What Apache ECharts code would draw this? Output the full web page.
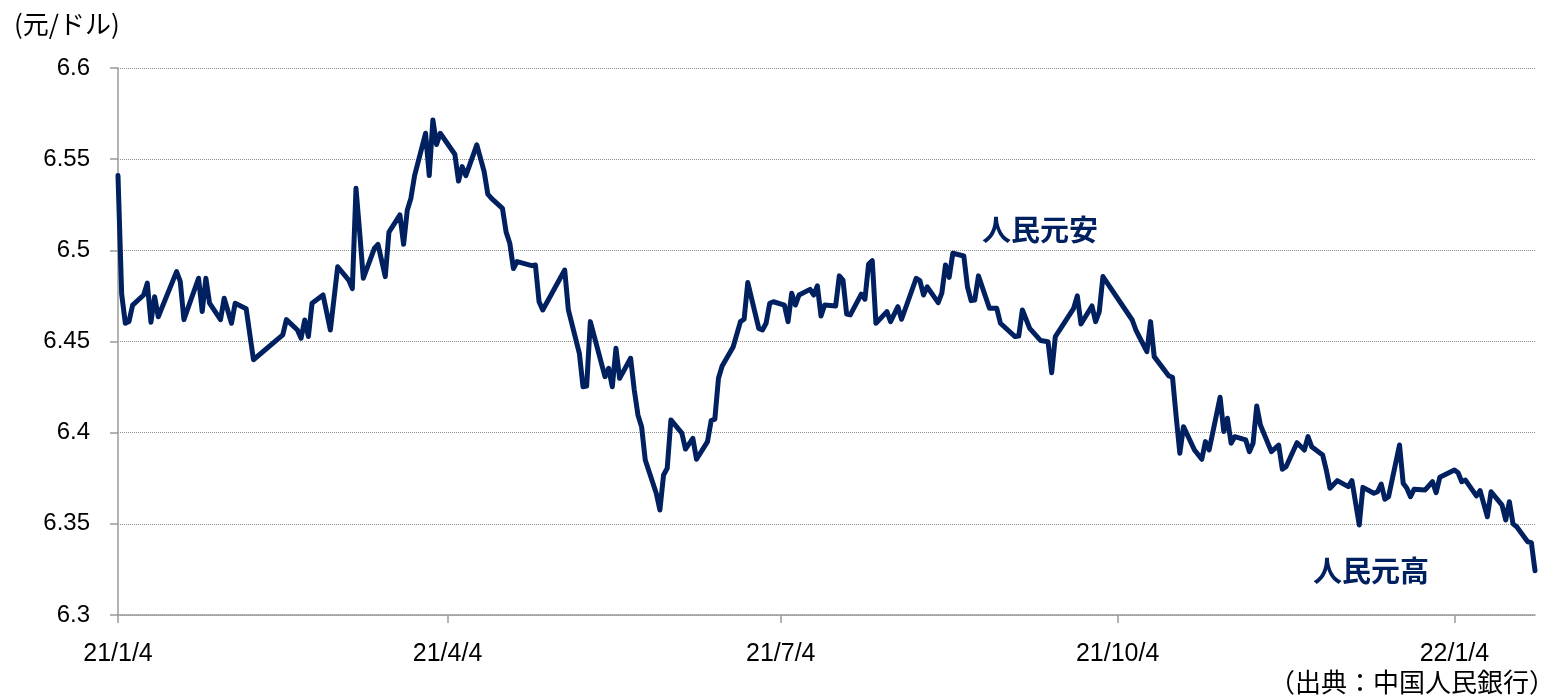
<!DOCTYPE html>
<html>
<head>
<meta charset="utf-8">
<title>人民元レート</title>
<script src="https://cdn.jsdelivr.net/npm/echarts@6/dist/echarts.min.js"></script>
<style>
  html, body { margin: 0; padding: 0; background: #fff; }
  #chart { width: 1559px; height: 699px; }
</style>
</head>
<body>
<div id="chart"></div>
<script>
// 取引日と人民元中間値（元/ドル）
const dates = [
  '2021-01-04','2021-01-05','2021-01-06','2021-01-07','2021-01-08','2021-01-11','2021-01-12','2021-01-13','2021-01-14','2021-01-15',
  '2021-01-20','2021-01-21','2021-01-22','2021-01-26','2021-01-27','2021-01-28','2021-01-29','2021-02-01','2021-02-02','2021-02-04',
  '2021-02-05','2021-02-08','2021-02-10','2021-02-18','2021-02-19','2021-02-22','2021-02-23','2021-02-24','2021-02-25','2021-02-26',
  '2021-03-01','2021-03-03','2021-03-05','2021-03-08','2021-03-09','2021-03-10','2021-03-11','2021-03-12','2021-03-15','2021-03-16',
  '2021-03-18','2021-03-19','2021-03-22','2021-03-23','2021-03-24','2021-03-25','2021-03-26','2021-03-29','2021-03-30','2021-03-31',
  '2021-04-01','2021-04-02','2021-04-06','2021-04-07','2021-04-08','2021-04-09','2021-04-12','2021-04-14','2021-04-15','2021-04-16',
  '2021-04-19','2021-04-20','2021-04-21','2021-04-22','2021-04-23','2021-04-27','2021-04-28','2021-04-29','2021-04-30','2021-05-06',
  '2021-05-07','2021-05-10','2021-05-11','2021-05-12','2021-05-13','2021-05-17','2021-05-18','2021-05-19','2021-05-20','2021-05-21',
  '2021-05-24','2021-05-25','2021-05-26','2021-05-27','2021-05-28','2021-05-31','2021-06-01','2021-06-02','2021-06-03','2021-06-04',
  '2021-06-07','2021-06-08','2021-06-10','2021-06-11','2021-06-14','2021-06-15','2021-06-16','2021-06-17','2021-06-18','2021-06-21',
  '2021-06-23','2021-06-24','2021-06-25','2021-06-28','2021-06-29','2021-06-30','2021-07-01','2021-07-02','2021-07-05','2021-07-06',
  '2021-07-07','2021-07-08','2021-07-09','2021-07-12','2021-07-13','2021-07-14','2021-07-15','2021-07-16','2021-07-19','2021-07-20',
  '2021-07-21','2021-07-22','2021-07-23','2021-07-26','2021-07-27','2021-07-28','2021-07-29','2021-07-30','2021-08-02','2021-08-03',
  '2021-08-05','2021-08-06','2021-08-10','2021-08-11','2021-08-12','2021-08-13','2021-08-16','2021-08-17','2021-08-18','2021-08-19',
  '2021-08-20','2021-08-23','2021-08-24','2021-08-25','2021-08-26','2021-08-27','2021-08-30','2021-09-01','2021-09-02','2021-09-06',
  '2021-09-07','2021-09-08','2021-09-10','2021-09-13','2021-09-15','2021-09-16','2021-09-17','2021-09-22','2021-09-23','2021-09-24',
  '2021-09-27','2021-09-28','2021-09-29','2021-09-30','2021-10-08','2021-10-09','2021-10-12','2021-10-13','2021-10-14','2021-10-18',
  '2021-10-19','2021-10-20','2021-10-21','2021-10-22','2021-10-25','2021-10-27','2021-10-28','2021-10-29','2021-11-01','2021-11-02',
  '2021-11-03','2021-11-04','2021-11-05','2021-11-08','2021-11-09','2021-11-10','2021-11-11','2021-11-12','2021-11-15','2021-11-17',
  '2021-11-18','2021-11-19','2021-11-22','2021-11-24','2021-11-25','2021-11-26','2021-11-29','2021-11-30','2021-12-01','2021-12-03',
  '2021-12-06','2021-12-07','2021-12-09','2021-12-10','2021-12-13','2021-12-14','2021-12-15','2021-12-16','2021-12-17','2021-12-20',
  '2021-12-21','2021-12-22','2021-12-23','2021-12-24','2021-12-27','2021-12-29','2021-12-30','2021-12-31','2022-01-04','2022-01-05',
  '2022-01-06','2022-01-07','2022-01-10','2022-01-11','2022-01-13','2022-01-14','2022-01-17','2022-01-18','2022-01-19','2022-01-20',
  '2022-01-21','2022-01-24','2022-01-25','2022-01-26'
];
const rates = [
  6.541,6.476,6.460,6.461,6.470,6.4755,6.482,6.4606,6.4746,6.4636,
  6.4883,6.483,6.462,6.4847,6.4664,6.4847,6.471,6.462,6.4737,6.460,
  6.471,6.468,6.440,6.4536,6.462,6.4563,6.4518,6.4618,6.4527,6.471,
  6.4755,6.4563,6.491,6.4837,6.479,6.534,6.510,6.4847,6.501,6.5033,
  6.4856,6.510,6.5194,6.5033,6.522,6.5286,6.541,6.5642,6.541,6.5715,
  6.558,6.5642,6.5527,6.538,6.5459,6.541,6.5578,6.5432,6.5308,6.5285,
  6.523,6.510,6.5039,6.490,6.4938,6.4916,6.492,6.4718,6.4673,6.4892,
  6.4673,6.4435,6.4252,6.4256,6.4609,6.4307,6.4353,6.4252,6.4463,6.4298,
  6.4408,6.4234,6.4097,6.4033,6.385,6.3668,6.3576,6.3768,6.3805,6.407,
  6.3997,6.391,6.3969,6.3854,6.3951,6.4066,6.4074,6.4298,6.4366,6.447,
  6.4609,6.4622,6.4823,6.4572,6.4563,6.46,6.471,6.4718,6.470,6.4609,
  6.4765,6.470,6.4755,6.4786,6.4755,6.4805,6.464,6.470,6.4695,6.486,
  6.4837,6.4651,6.4646,6.476,6.4732,6.4925,6.4943,6.46,6.4664,6.4609,
  6.4691,6.4622,6.4847,6.4834,6.4755,6.48,6.4713,6.4765,6.492,6.4852,
  6.4984,6.4969,6.48,6.4724,6.4728,6.486,6.4682,6.4682,6.46,6.4527,
  6.453,6.4673,6.4572,6.4505,6.4499,6.4329,6.4527,6.4682,6.475,6.4596,
  6.4695,6.4609,6.4664,6.4856,6.4618,6.4563,6.4444,6.4609,6.4417,6.4311,
  6.4304,6.4088,6.3887,6.4033,6.3905,6.3854,6.3951,6.3905,6.4194,6.4006,
  6.4079,6.3942,6.3978,6.396,6.3896,6.3942,6.4146,6.4042,6.3896,6.3932,
  6.3799,6.3813,6.3945,6.3905,6.3978,6.3923,6.3878,6.3795,6.3695,6.3737,
  6.3704,6.3737,6.3494,6.37,6.3668,6.3676,6.3718,6.3635,6.3649,6.3932,
  6.3722,6.3695,6.3649,6.369,6.3686,6.3731,6.3671,6.3755,6.3795,6.378,
  6.3731,6.374,6.3653,6.3682,6.3539,6.3676,6.3603,6.3521,6.3621,6.35,
  6.3484,6.3402,6.3397,6.3243
];
// 横軸の目盛
const tickDates = ['2021-01-04','2021-04-04','2021-07-04','2021-10-04','2022-01-04'];
const tickLabels = ['21/1/4','21/4/4','21/7/4','21/10/4','22/1/4'];

const DAY = 86400000;
const base = Date.parse(dates[0]);
function dayOf(d) {
  return Math.round((Date.parse(d) - base) / DAY);
}
const lineData = dates.map((d, i) => [dayOf(d), rates[i]]);
const tickDays = tickDates.map(dayOf);

const navy = '#002060';
const numFont = "'Liberation Sans', Arial, sans-serif";
const jpFont = "'Noto Sans CJK JP', sans-serif";

let myChart = echarts.init(document.getElementById('chart'));
myChart.setOption({
  animation: false,
  grid: { left: 118, right: 24, top: 68, bottom: 84 },
  xAxis: {
    type: 'value',
    min: 0,
    max: dayOf(dates[dates.length - 1]),
    axisLine: { lineStyle: { color: '#9a9a9a', width: 1.5 } },
    axisTick: { show: true, length: 8, customValues: tickDays, lineStyle: { color: '#9a9a9a', width: 1.5 } },
    axisLabel: {
      customValues: tickDays,
      margin: 27,
      color: '#000',
      fontSize: 25,
      fontFamily: numFont,
      formatter: function (v) {
        let i = tickDays.indexOf(v);
        return i >= 0 ? tickLabels[i] : '';
      }
    },
    splitLine: { show: false }
  },
  yAxis: {
    type: 'value',
    min: 6.3,
    max: 6.6,
    interval: 0.05,
    axisLine: { show: true, lineStyle: { color: '#9a9a9a', width: 1.5 } },
    axisTick: { show: true, length: 8, lineStyle: { color: '#9a9a9a', width: 1.5 } },
    axisLabel: { margin: 28, color: '#000', fontSize: 24, fontFamily: numFont },
    splitLine: { show: true, lineStyle: { color: '#8c8c8c', type: 'dotted', width: 1 } }
  },
  series: [
    {
      type: 'line',
      data: lineData,
      showSymbol: false,
      lineStyle: { color: navy, width: 5, join: 'round', cap: 'round' }
    }
  ],
  graphic: [
    { type: 'text', left: 14, top: 11, style: { text: '(元/ドル)', fontSize: 26, fontFamily: jpFont, fill: '#000' } },
    { type: 'text', left: 982, top: 215, style: { text: '人民元安', fontSize: 29, fontWeight: 'bold', fontFamily: jpFont, fill: navy } },
    { type: 'text', left: 1313, top: 556, style: { text: '人民元高', fontSize: 29, fontWeight: 'bold', fontFamily: jpFont, fill: navy } },
    { type: 'text', right: 4, top: 669, style: { text: '（出典：中国人民銀行）', fontSize: 26, fontFamily: jpFont, fill: '#000' } }
  ]
});
window.onresize = myChart.resize;
</script>
</body>
</html>
